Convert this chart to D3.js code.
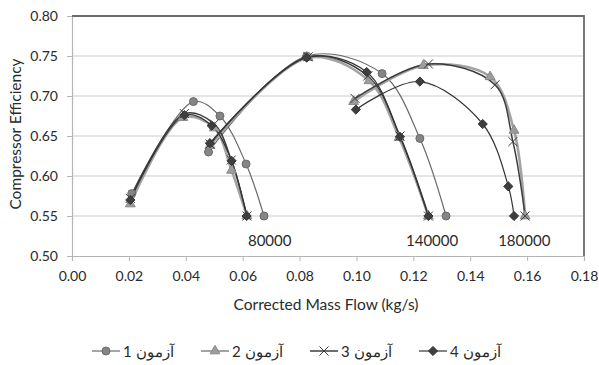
<!DOCTYPE html>
<html>
<head>
<meta charset="utf-8">
<script src="https://cdn.jsdelivr.net/npm/d3@7"></script>
<style>
  body { margin: 0; background: #ffffff; }
  svg { font-family: Lato, "Open Sans", sans-serif; }
</style>
</head>
<body>
<svg id="contenedor"></svg>
<script>
// nombres de las series (leyenda)
let seriesNames = ["آزمون 1", "آزمون 2", "آزمون 3", "آزمون 4"];

// etiquetas de velocidad
let speedLabels = ["80000", "140000", "180000"];
let speedLabelX = [0.0695, 0.1266, 0.159];
let speedLabelY = [0.519, 0.519, 0.519];

// ticks
let xTicks = [0, 0.02, 0.04, 0.06, 0.08, 0.1, 0.12, 0.14, 0.16, 0.18];
let yTicks = [0.5, 0.55, 0.6, 0.65, 0.7, 0.75, 0.8];

// datos por serie (null = separacion entre lineas de velocidad)
let flow1 = [0.021, 0.0427, 0.052, 0.0612, 0.0675, null, 0.048, 0.0825, 0.109, 0.1223, 0.1315];
let eff1 = [0.578, 0.693, 0.675, 0.615, 0.55, null, 0.63, 0.75, 0.728, 0.647, 0.55];

let flow2 = [0.0205, 0.039, 0.05, 0.0561, 0.0615, null, 0.0485, 0.083, 0.1044, 0.115, 0.1253, null, 0.099, 0.1235, 0.147, 0.1554, 0.1593];
let eff2 = [0.565, 0.673, 0.66, 0.607, 0.55, null, 0.638, 0.748, 0.719, 0.648, 0.55, null, 0.693, 0.738, 0.724, 0.657, 0.55];

let flow3 = [0.0205, 0.0395, 0.05, 0.056, 0.0615, null, 0.0485, 0.083, 0.104, 0.1153, 0.1253, null, 0.0995, 0.1253, 0.1487, 0.155, 0.1593];
let eff3 = [0.572, 0.678, 0.665, 0.62, 0.55, null, 0.64, 0.749, 0.725, 0.65, 0.55, null, 0.697, 0.74, 0.714, 0.643, 0.55];

let flow4 = [0.0205, 0.0395, 0.0491, 0.0561, 0.0614, null, 0.0485, 0.0825, 0.1036, 0.1153, 0.1253, null, 0.0998, 0.1223, 0.1444, 0.1534, 0.1554];
let eff4 = [0.57, 0.676, 0.663, 0.619, 0.55, null, 0.641, 0.748, 0.73, 0.649, 0.55, null, 0.683, 0.718, 0.665, 0.587, 0.55];

let flows = [flow1, flow2, flow3, flow4];
let effs = [eff1, eff2, eff3, eff4];

// estilos de cada serie
let estilos = [
  { line: "#6a6a6a", width: 1.2, marker: "circle", fill: "#858585", stroke: "#6a6a6a" },
  { line: "#a3a3a3", width: 2.6, marker: "triangle", fill: "#9c9c9c", stroke: "#8a8a8a" },
  { line: "#3c3c3c", width: 1.5, marker: "cross", fill: "none", stroke: "#3a3a3a" },
  { line: "#353535", width: 1.2, marker: "diamond", fill: "#3e3e3e", stroke: "#333333" },
];

function getConfig() {
  let width = 599;
  let height = 365;
  let margin = { top: 16, bottom: 109, left: 72, right: 15 };
  let bodyHeight = height - margin.top - margin.bottom;
  let bodyWidth = width - margin.left - margin.right;
  let container = d3.select("#contenedor");
  container.attr("width", width).attr("height", height);
  return { width, height, margin, bodyHeight, bodyWidth, container };
}

function getScales(config) {
  let { bodyWidth, bodyHeight } = config;
  let xScale = d3.scaleLinear().domain([0, 0.18]).range([0, bodyWidth]);
  let yScale = d3.scaleLinear().domain([0.5, 0.8]).range([bodyHeight, 0]);
  return { xScale, yScale };
}

function markerPath(tipo) {
  if (tipo === "circle") return d3.symbol(d3.symbolCircle, 50)();
  if (tipo === "triangle") return d3.symbol(d3.symbolTriangle, 42)();
  if (tipo === "diamond") return "M0,-4.6L4.6,0L0,4.6L-4.6,0Z";
  return "M-4.5,-4.5L4.5,4.5M-4.5,4.5L4.5,-4.5";
}

function dibujarEjes(scales, config) {
  let { xScale, yScale } = scales;
  let { container, margin, bodyHeight, bodyWidth } = config;
  let body = container.append("g").attr("transform", `translate(${margin.left},${margin.top})`);

  // lineas de grilla
  body.selectAll(".grid").data(yTicks.slice(1, -1)).enter()
    .append("line")
    .attr("x1", 0).attr("x2", bodyWidth)
    .attr("y1", d => yScale(d)).attr("y2", d => yScale(d))
    .attr("stroke", "#cbcbcb").attr("stroke-width", 1.2);

  let axisX = d3.axisBottom(xScale).tickValues(xTicks).tickFormat(d3.format(".2f")).tickSizeOuter(0).tickSize(5).tickPadding(10);
  let gx = body.append("g").attr("transform", `translate(0,${bodyHeight})`).call(axisX);
  gx.select(".domain").attr("stroke", "#b5b5b5").attr("stroke-width", 1.2);
  gx.selectAll(".tick line").attr("stroke", "#b5b5b5");
  gx.selectAll("text").attr("font-size", 14).attr("fill", "#2a2a2a").attr("font-family", "Lato, sans-serif");

  let axisY = d3.axisLeft(yScale).tickValues(yTicks).tickFormat(d3.format(".2f")).tickSizeOuter(0).tickSize(5).tickPadding(9);
  let gy = body.append("g").call(axisY);
  gy.select(".domain").attr("stroke", "#b5b5b5").attr("stroke-width", 1.2);
  gy.selectAll(".tick line").attr("stroke", "#b5b5b5");
  gy.selectAll("text").attr("font-size", 14).attr("fill", "#2a2a2a").attr("font-family", "Lato, sans-serif");

  // borde superior y derecho
  body.append("path")
    .attr("d", `M0,${yScale(0.8)}H${xScale(0.18)}V${yScale(0.5)}`)
    .attr("fill", "none").attr("stroke", "#6b6b6b").attr("stroke-width", 1.8);

  // titulos
  container.append("text")
    .attr("x", margin.left + bodyWidth / 2 - 2).attr("y", 310)
    .attr("text-anchor", "middle").attr("font-size", 15.5).attr("fill", "#2a2a2a")
    .text("Corrected Mass Flow (kg/s)");
  container.append("text")
    .attr("transform", `translate(21,${margin.top + bodyHeight / 2 - 2}) rotate(-90)`)
    .attr("text-anchor", "middle").attr("font-size", 15.5).attr("fill", "#2a2a2a")
    .text("Compressor Efficiency");
  return body;
}

function dibujarSeries(body, scales) {
  let { xScale, yScale } = scales;
  let linea = d3.line()
    .defined(d => d[0] !== null)
    .x(d => xScale(d[0])).y(d => yScale(d[1]))
    .curve(d3.curveCatmullRom.alpha(0.5));

  flows.forEach((flow, i) => {
    let puntos = flow.map((f, j) => [f, effs[i][j]]);
    let est = estilos[i];
    body.append("path").datum(puntos)
      .attr("d", linea)
      .attr("fill", "none").attr("stroke", est.line).attr("stroke-width", est.width);
  });

  flows.forEach((flow, i) => {
    let puntos = flow.map((f, j) => [f, effs[i][j]]).filter(d => d[0] !== null);
    let est = estilos[i];
    body.selectAll(".m" + i).data(puntos).enter()
      .append("path")
      .attr("transform", d => `translate(${xScale(d[0])},${yScale(d[1])})`)
      .attr("d", markerPath(est.marker))
      .attr("fill", est.fill).attr("stroke", est.stroke).attr("stroke-width", 1);
  });

  // etiquetas de velocidad
  body.selectAll(".vel").data(speedLabels).enter()
    .append("text")
    .attr("x", (d, i) => xScale(speedLabelX[i]))
    .attr("y", (d, i) => yScale(speedLabelY[i]) + 5)
    .attr("text-anchor", "middle").attr("font-size", 15).attr("fill", "#2a2a2a")
    .text(d => d);
}

function dibujarLeyenda(config) {
  let { container } = config;
  let ley = container.append("g").attr("transform", "translate(92,351)");
  seriesNames.forEach((nombre, i) => {
    let est = estilos[i];
    let partes = nombre.split(" "); // [palabra, numero]
    let g = ley.append("g").attr("transform", `translate(${i * 109},0)`);
    g.append("line").attr("x1", 0).attr("x2", 28).attr("y1", 0).attr("y2", 0)
      .attr("stroke", est.line).attr("stroke-width", Math.min(est.width, 2));
    g.append("path").attr("transform", "translate(14,0)")
      .attr("d", markerPath(est.marker))
      .attr("fill", est.fill).attr("stroke", est.stroke);
    // el texto RTL se ve: numero a la izquierda, palabra a la derecha
    g.append("text").attr("x", 31).attr("y", 5.5)
      .attr("font-size", 15).attr("fill", "#2a2a2a")
      .text(partes[1]);
    g.append("text").attr("x", 44).attr("y", 5.5)
      .attr("font-size", 14.5).attr("fill", "#2a2a2a")
      .text(partes[0]);
  });
}

function dibujarChart() {
  let config = getConfig();
  let scales = getScales(config);
  let body = dibujarEjes(scales, config);
  dibujarSeries(body, scales);
  dibujarLeyenda(config);
}

dibujarChart();
</script>
</body>
</html>
